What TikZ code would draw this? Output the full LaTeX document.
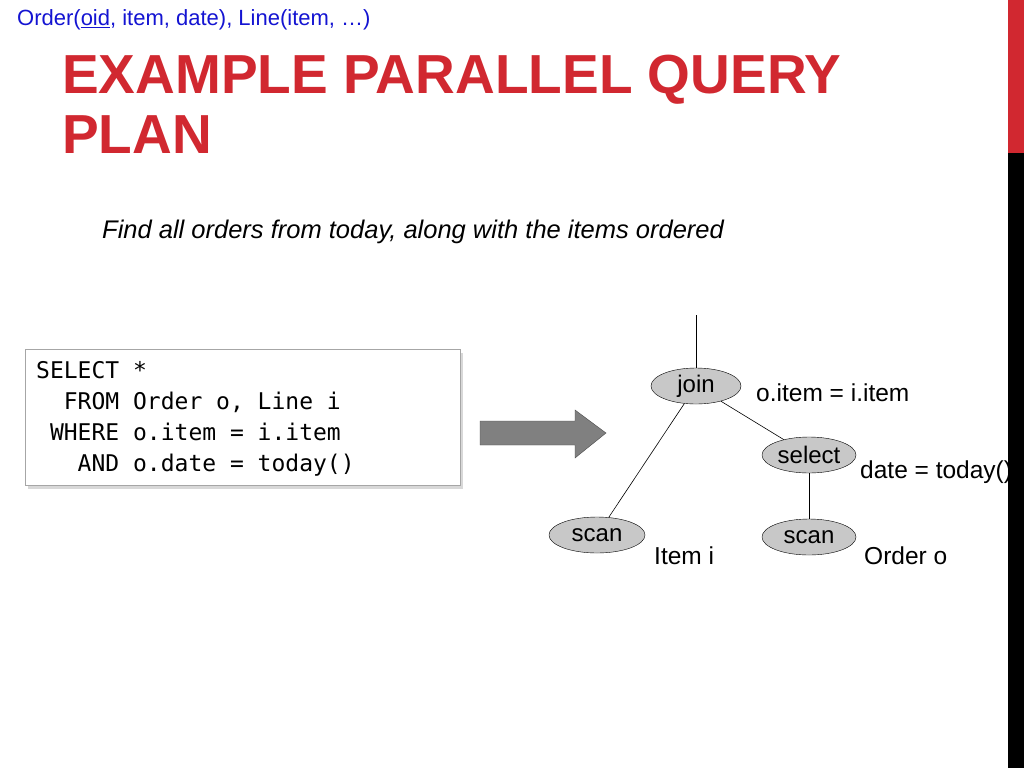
\documentclass[tikz,border=0pt]{standalone}
\usepackage{fontspec}
\setmainfont{Liberation Sans}
\newfontfamily\codefont{DejaVu Sans Mono}
\usetikzlibrary{shapes.geometric,shadows}
\definecolor{titlered}{RGB}{209,40,48}
\definecolor{nodegray}{RGB}{200,200,200}
\definecolor{topblue}{RGB}{20,20,210}
\begin{document}
\begin{tikzpicture}[x=1pt,y=-1pt,
  opnode/.style={ellipse,draw=black,fill=nodegray,minimum width=94pt,minimum height=36pt,inner sep=0pt,font=\fontsize{24}{26}\selectfont},
  lbl/.style={anchor=west,inner sep=0pt,font=\fontsize{24.5}{26}\selectfont},
  edge/.style={draw=black,line width=0.6pt}]
\useasboundingbox (0,0) rectangle (1024,768);
\fill[white] (0,0) rectangle (1024,768);
\node[anchor=west,inner sep=0pt,text=topblue,font=\fontsize{22}{24}\selectfont] (top) at (17,20) {Order(\underline{oid}, item, date), Line(item, \dots)};
\node[anchor=north west,inner sep=0pt,text=titlered,align=left,font=\fontsize{55}{60}\selectfont\bfseries] (title) at (62,55) {EXAMPLE PARALLEL QUERY\\PLAN};
\node[anchor=west,inner sep=0pt,font=\fontsize{25.5}{27}\selectfont\itshape] (sub) at (102,232) {Find all orders from today, along with the items ordered};
\node[draw=gray!70,fill=white,minimum width=435pt,minimum height=136pt,anchor=north west,drop shadow={shadow xshift=3pt,shadow yshift=-4pt,fill=gray!60}] (box) at (25,349) {};
\node[anchor=north west,inner sep=0pt,align=left,font=\codefont\fontsize{23}{31}\selectfont] (code) at (36,361) {SELECT *\\\ \ FROM Order o, Line i\\\ WHERE o.item = i.item\\\ \ \ AND o.date = today()};
\draw[draw=black!70,fill=gray] (480,421) -- (575,421) -- (575,410) -- (606,433) -- (575,458) -- (575,445) -- (480,445) -- cycle;
\node[opnode,minimum width=90pt] (join) at (696,386) {join};
\node[opnode] (select) at (809,455) {select};
\node[opnode,minimum width=96pt] (scanL) at (597,535) {scan};
\node[opnode] (scanR) at (809,537) {scan};
\coordinate (root) at (696,315);
\draw[edge] (root) -- (join);
\draw[edge] (join) -- (scanL);
\draw[edge] (join) -- (select);
\draw[edge] (select) -- (scanR);
\node[lbl] (l1) at (756,393) {o.item = i.item};
\node[lbl] (l2) at (860,472) {date = today()};
\node[lbl] (l3) at (654,556) {Item i};
\node[lbl] (l4) at (864,556) {Order o};
\fill[titlered] (1008,0) rectangle (1024,153);
\fill[black] (1008,153) rectangle (1024,768);
\end{tikzpicture}
\end{document}
